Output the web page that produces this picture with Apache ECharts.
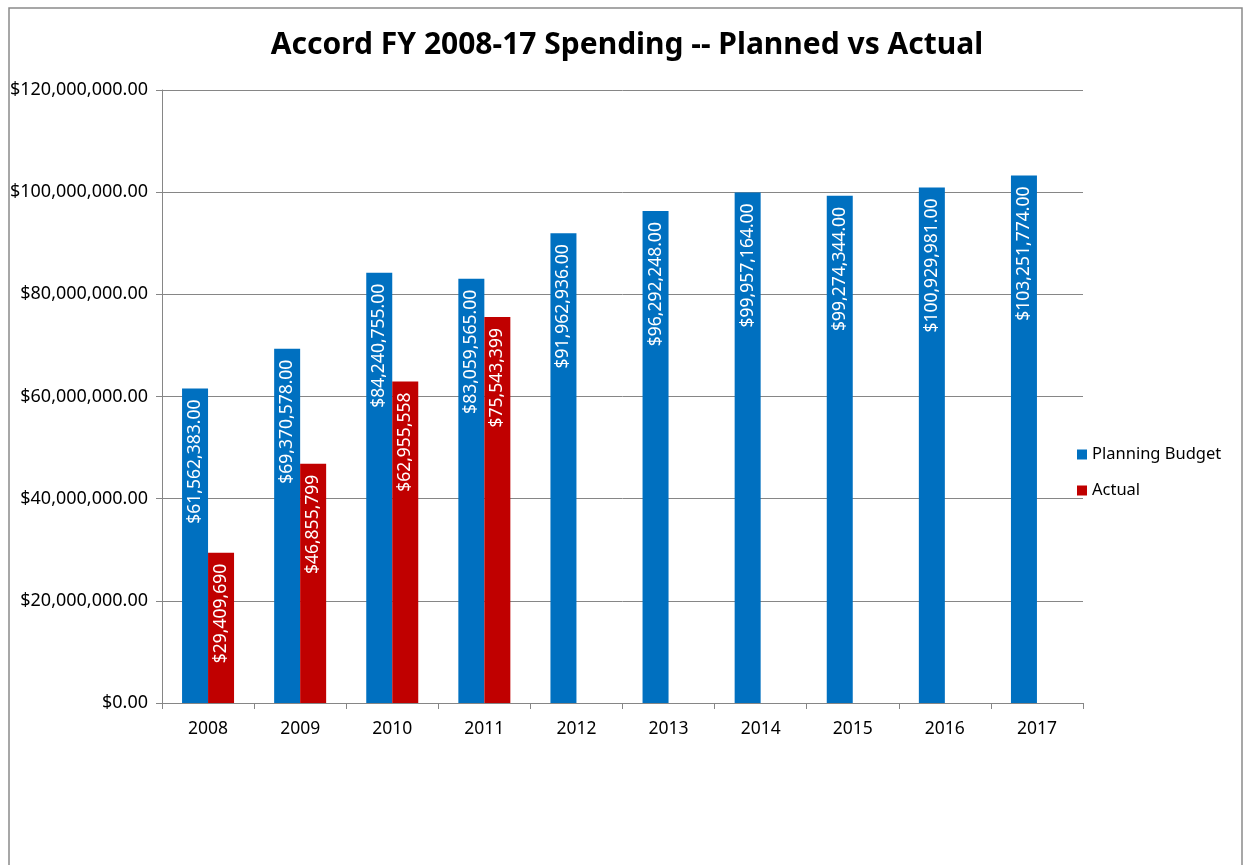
<!DOCTYPE html>
<html>
<head>
<meta charset="utf-8">
<script src="https://cdn.jsdelivr.net/npm/echarts@6/dist/echarts.min.js"></script>
<style>
html,body{margin:0;padding:0;background:#fff;}
#chart{width:1244px;height:865px;}
</style>
</head>
<body>
<div id="chart"></div>
<script>
const years = ['2008','2009','2010','2011','2012','2013','2014','2015','2016','2017'];
const planningBudget = [61562383, 69370578, 84240755, 83059565, 91962936, 96292248, 99957164, 99274344, 100929981, 103251774];
const actual = [29409690, 46855799, 62955558, 75543399, null, null, null, null, null, null];
const titleText = 'Accord FY 2008-17 Spending -- Planned vs Actual';

const FONT = '"Noto Sans", "Open Sans", sans-serif';
function fmtInt(v){ return Math.round(v).toString().replace(/\B(?=(\d{3})+(?!\d))/g, ','); }

const chart = echarts.init(document.getElementById('chart'));
chart.setOption({
  animation: false,
  backgroundColor: '#fff',
  textStyle: { fontFamily: FONT },
  title: {
    text: titleText,
    left: 622, top: 25, textAlign: 'center',
    textStyle: { fontFamily: FONT, fontWeight: 'bold', fontSize: 30, color: '#000' }
  },
  graphic: [{
    type: 'rect', silent: true, z: -1,
    shape: { x: 9, y: 8, width: 1233, height: 900 },
    style: { fill: 'none', stroke: '#8a8a8a', lineWidth: 1.5 }
  }],
  legend: {
    orient: 'vertical', left: 1072, top: 441,
    itemWidth: 10, itemHeight: 10, itemGap: 19,
    icon: 'rect',
    textStyle: { fontFamily: FONT, fontSize: 16.5, color: '#000' },
    data: ['Planning Budget', 'Actual']
  },
  grid: { left: 162, top: 90, right: 161, bottom: 162 },
  xAxis: {
    type: 'category', data: years,
    axisLine: { lineStyle: { color: '#868686', width: 1 } },
    axisTick: { show: true, length: 6, alignWithLabel: false, lineStyle: { color: '#868686' } },
    axisLabel: { fontFamily: FONT, fontSize: 17.5, color: '#000', margin: 17 }
  },
  yAxis: {
    type: 'value', min: 0, max: 120000000, interval: 20000000,
    axisLine: { show: true, lineStyle: { color: '#868686', width: 1 } },
    axisTick: { show: true, length: 6, lineStyle: { color: '#868686' } },
    splitLine: { lineStyle: { color: '#868686', width: 1 } },
    axisLabel: {
      fontFamily: FONT, fontSize: 18, color: '#000', margin: 14,
      formatter: v => '$' + fmtInt(v) + '.00'
    }
  },
  series: [
    {
      name: 'Planning Budget', type: 'bar', data: planningBudget,
      barWidth: 26, barGap: '0%',
      itemStyle: { color: '#0070C0' },
      label: {
        show: true, position: 'insideTop', rotate: 90, distance: 11,
        align: 'right', verticalAlign: 'middle',
        color: '#fff', fontFamily: FONT, fontSize: 17.5,
        formatter: p => '$' + fmtInt(p.value) + '.00'
      }
    },
    {
      name: 'Actual', type: 'bar', data: actual,
      barWidth: 26, barGap: '0%',
      itemStyle: { color: '#C00000' },
      label: {
        show: true, position: 'insideTop', rotate: 90, distance: 11,
        align: 'right', verticalAlign: 'middle',
        color: '#fff', fontFamily: FONT, fontSize: 17.5,
        formatter: p => p.value == null ? '' : '$' + fmtInt(p.value)
      }
    }
  ]
});
</script>
</body>
</html>
